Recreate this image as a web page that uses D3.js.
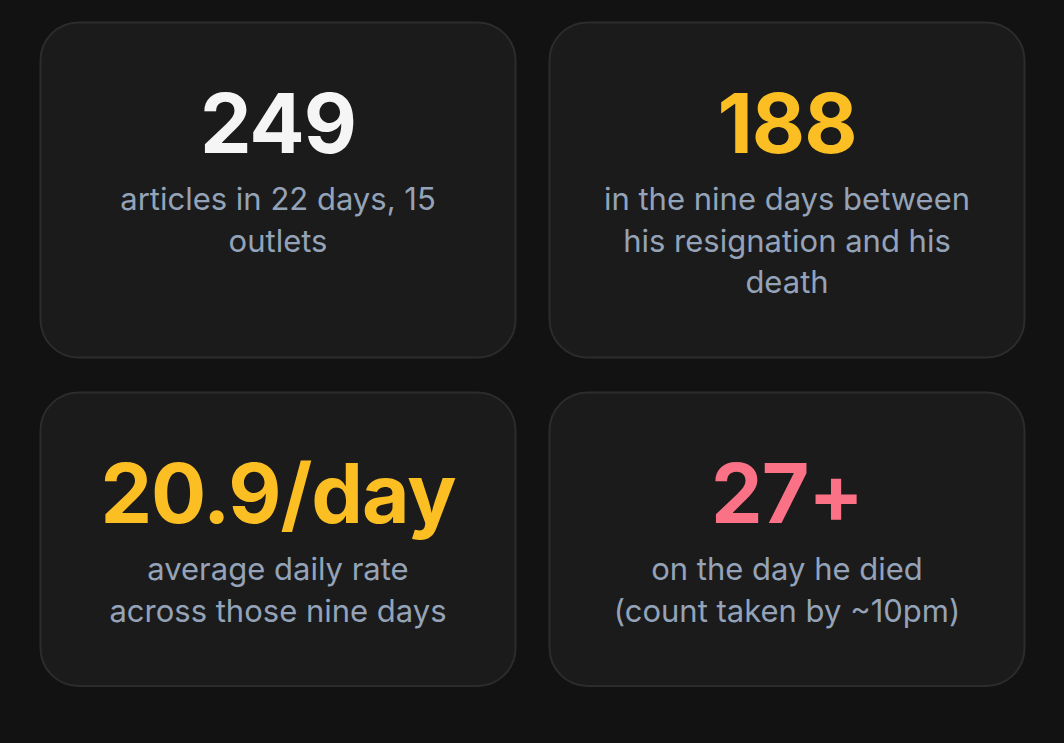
<!DOCTYPE html>
<html>
<head>
<meta charset="utf-8">
<script src="https://cdn.jsdelivr.net/npm/d3@7/dist/d3.min.js"></script>
<style>
  html, body { margin: 0; padding: 0; background: #121213; }
  svg { display: block; }
</style>
</head>
<body>
<svg id="stats" width="1064" height="743"></svg>
<script>
// stat values, their colours and the caption lines under them
var values = ["249", "188", "20.9/day", "27+"];
var valueColors = ["#f5f5f5", "#fbbf24", "#fbbf24", "#fb7185"];
var captions = [
  ["articles in 22 days, 15", "outlets"],
  ["in the nine days between", "his resignation and his", "death"],
  ["average daily rate", "across those nine days"],
  ["on the day he died", "(count taken by ~10pm)"]
];

var W = 1064, H = 743;
var marginLeft = 40, marginTop = 22, gapX = 33, gapY = 34;
var cardW = 476;
var numBase = 131, capBase = 188, lineH = 41.5, padBottom = 65;

var svg = d3.select("#stats");
svg.append("rect").attr("width", W).attr("height", H).attr("fill", "#121213");

var cards = values.map(function (v, i) {
  return { value: v, color: valueColors[i], lines: captions[i], col: i % 2, row: Math.floor(i / 2) };
});

// row height follows the tallest card in the row
var rowHeights = d3.range(2).map(function (r) {
  var n = d3.max(cards.filter(function (c) { return c.row === r; }), function (c) { return c.lines.length; });
  return capBase + (n - 1) * lineH + padBottom;
});
var rowTops = [marginTop, marginTop + rowHeights[0] + gapY];

var g = svg.selectAll("g.card")
  .data(cards)
  .enter().append("g")
    .attr("class", "card")
    .attr("transform", function (d) { return "translate(" + (marginLeft + d.col * (cardW + gapX)) + "," + rowTops[d.row] + ")"; });

g.append("rect")
  .attr("x", 0.5).attr("y", 0.5)
  .attr("width", cardW - 1)
  .attr("height", function (d) { return rowHeights[d.row] - 1; })
  .attr("rx", 38).attr("ry", 38)
  .attr("fill", "#1b1b1c")
  .attr("stroke", "#2c2c2d")
  .attr("stroke-width", 2);

g.append("text")
  .attr("x", cardW / 2)
  .attr("y", numBase)
  .attr("text-anchor", "middle")
  .attr("font-family", "Inter, sans-serif")
  .attr("font-weight", 700)
  .attr("font-size", 82)
  .attr("letter-spacing", -1)
  .attr("fill", function (d) { return d.color; })
  .text(function (d) { return d.value; });

g.each(function (d) {
  d3.select(this).selectAll("text.cap")
    .data(d.lines)
    .enter().append("text")
      .attr("class", "cap")
      .attr("x", cardW / 2)
      .attr("y", function (t, j) { return capBase + j * lineH; })
      .attr("text-anchor", "middle")
      .attr("font-family", "Inter, sans-serif")
      .attr("font-size", 31)
      .attr("fill", "#94a3b8")
      .text(function (t) { return t; });
});
</script>
</body>
</html>
